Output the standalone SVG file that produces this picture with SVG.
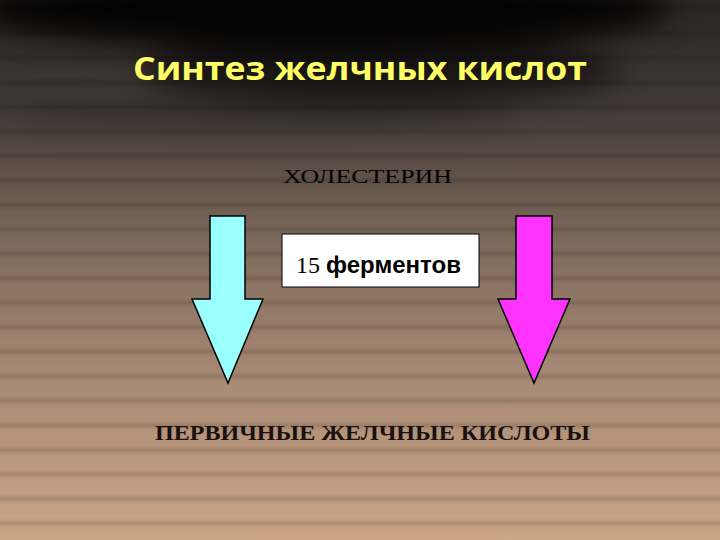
<svg xmlns="http://www.w3.org/2000/svg" width="720" height="540" viewBox="0 0 720 540">
  <defs>
    <linearGradient id="bg" x1="0" y1="0" x2="0" y2="1">
      <stop offset="0" stop-color="#2a2522"/>
      <stop offset="0.2" stop-color="#423a36"/>
      <stop offset="0.45" stop-color="#7e6a5c"/>
      <stop offset="0.7" stop-color="#a88a74"/>
      <stop offset="1" stop-color="#cca686"/>
    </linearGradient>
    <linearGradient id="stripeG" x1="0" y1="0" x2="0" y2="1">
      <stop offset="0" stop-color="#000" stop-opacity="0"/>
      <stop offset="0.5" stop-color="#000" stop-opacity="0.14"/>
      <stop offset="0.75" stop-color="#000" stop-opacity="0.05"/>
      <stop offset="1" stop-color="#000" stop-opacity="0"/>
    </linearGradient>
    <pattern id="stripes" x="0" y="4" width="720" height="24.5" patternUnits="userSpaceOnUse">
      <rect x="0" y="0" width="720" height="10" fill="url(#stripeG)"/>
    </pattern>
    <filter id="blur" x="-0.3" y="-1" width="1.6" height="3" color-interpolation-filters="sRGB">
      <feGaussianBlur stdDeviation="14"/>
    </filter>
    <style>
      .arrow { stroke: #000; stroke-width: 1.5; stroke-linejoin: miter; }
      .serif { font-family: "Liberation Serif", "Times New Roman", serif; }
      .sans { font-family: "Liberation Sans", Arial, sans-serif; }
    </style>
  </defs>

  <rect x="0" y="0" width="720" height="540" fill="url(#bg)"/>
  <rect x="0" y="0" width="720" height="540" fill="url(#stripes)"/>
  <g filter="url(#blur)">
    <ellipse cx="320" cy="10" rx="350" ry="38" fill="#000000" opacity="0.9"/>
    <ellipse cx="380" cy="70" rx="240" ry="34" fill="#000000" opacity="0.55"/>
    <ellipse cx="260" cy="115" rx="260" ry="12" fill="#000000" opacity="0.25"/>
  </g>

  <g id="title">
    <text x="360" y="80" text-anchor="middle" font-family="'Open Sans', 'Noto Sans', sans-serif" font-weight="700" font-size="32" fill="#ffff66" textLength="454" lengthAdjust="spacingAndGlyphs">Синтез желчных кислот</text>
  </g>

  <g id="cholesterol">
    <text class="serif" x="283" y="183" font-size="19" fill="#000" textLength="169" lengthAdjust="spacingAndGlyphs">ХОЛЕСТЕРИН</text>
  </g>

  <g id="connectors">
    <polygon id="arrow-left" class="arrow" fill="#99ffff" points="210,216 245,216 245,299 263,299 228,383 192,299 210,299"/>
    <polygon id="arrow-right" class="arrow" fill="#ff33ff" points="516,216 552,216 552,299 570,299 534,383 498,299 516,299"/>
  </g>

  <g id="enzymes">
    <rect x="282" y="234" width="197" height="53" fill="#ffffff" stroke="#000" stroke-width="1"/>
    <text x="296" y="273" font-size="24" fill="#000" textLength="165" lengthAdjust="spacingAndGlyphs"><tspan class="serif">15 </tspan><tspan class="sans" font-weight="bold">ферментов</tspan></text>
  </g>

  <g id="primary">
    <text class="serif" x="155" y="440" font-size="20" font-weight="bold" fill="#1a1010" textLength="435" lengthAdjust="spacingAndGlyphs">ПЕРВИЧНЫЕ ЖЕЛЧНЫЕ КИСЛОТЫ</text>
  </g>
</svg>
